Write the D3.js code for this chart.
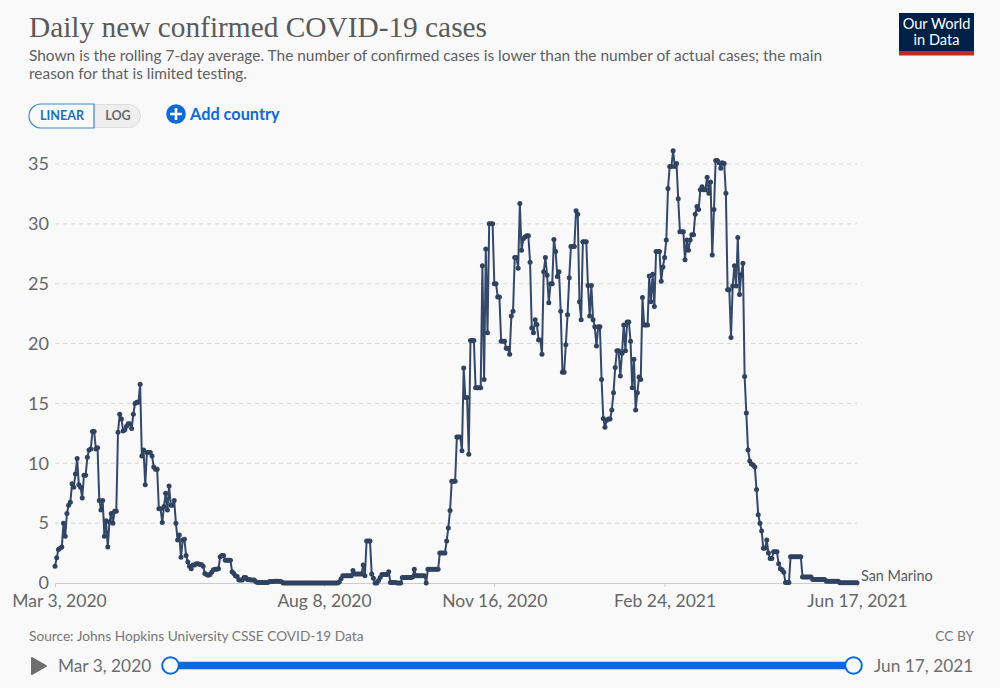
<!DOCTYPE html>
<html><head><meta charset="utf-8">
<script src="https://cdn.jsdelivr.net/npm/d3@7/dist/d3.min.js"></script>
<style>
html,body{margin:0;padding:0;background:#f9f9f9;overflow:hidden}
svg{display:block}
text{font-family:Lato,"Open Sans",sans-serif}
.domain{display:none}
</style></head><body>
<svg id="c" width="1000" height="688"></svg>
<script>
const title = "Daily new confirmed COVID-19 cases";
const subtitle = ["Shown is the rolling 7-day average. The number of confirmed cases is lower than the number of actual cases; the main","reason for that is limited testing."];
const source = "Source: Johns Hopkins University CSSE COVID-19 Data";
const seriesName = "San Marino";
const startDate = "2020-03-03";
const yTicks = [0,5,10,15,20,25,30,35];
const xTickDates = ["2020-03-03","2020-08-08","2020-11-16","2021-02-24","2021-06-17"];
const cases = [
1.4,2.1,2.8,2.9,3.0,5.0,3.9,5.8,6.5,6.75,
8.3,8.0,9.1,10.4,8.2,8.0,7.1,9.0,9.0,10.5,
11.1,11.2,12.65,12.65,11.2,11.3,6.9,6.1,6.9,3.9,
5.2,3.0,5.1,5.8,5.0,6.0,6.0,12.6,14.1,13.7,
12.7,12.8,13.1,13.3,13.3,12.9,14.1,15.0,15.1,15.1,
16.6,10.6,11.1,8.2,10.9,10.9,10.9,10.6,9.7,9.5,
9.5,6.2,6.2,5.05,6.4,7.5,6.1,8.1,6.5,6.5,
6.9,5.0,3.6,4.0,2.15,3.6,3.65,2.3,1.75,1.4,
1.2,1.5,1.5,1.6,1.6,1.55,1.55,1.4,.8,.7,
.65,.7,.9,1.1,1.15,1.15,1.2,2.2,2.3,2.3,
1.9,1.9,1.9,1.9,.95,.8,.6,.55,.25,.25,
.25,.45,.45,.3,.3,.25,.25,.25,.1,.05,
.05,.05,.05,.05,.05,.05,.12,.12,.12,.15,
.15,.15,.12,.1,0,0,0,0,0,0,
0,0,0,0,0,0,0,0,0,0,
0,0,0,0,0,0,0,0,0,0,
0,0,0,0,0,0,0,.1,.35,.6,
.6,.6,.6,.6,.6,1.05,.75,.75,.75,.75,
.75,1.5,.6,3.5,3.5,3.5,.75,.4,0,0,
.2,.45,.7,.7,.7,.7,.95,.05,.05,.05,
.05,0,0,0,.45,.45,.45,.45,.45,.45,
.5,1.15,.6,.6,.6,.6,.6,.6,0,1.15,
1.15,1.15,1.15,1.15,1.15,1.15,2.5,2.5,2.5,2.5,
3.5,4.6,6.05,8.5,8.5,8.5,12.2,12.2,12.2,11.05,
17.95,15.5,15.5,10.75,20.25,20.25,20.25,16.3,16.3,16.3,
16.3,26.5,17,27.9,20.9,30,30,30,25,25,
23.9,23.9,20.2,20.2,20.2,19.6,19.6,19.1,22.3,22.7,
27.2,27.2,26.3,31.7,27.8,28.75,28.9,29,29,26.8,
21.3,20.9,22,21.6,20.3,20.3,19.1,26,27.2,25.7,
23.4,25,25,28.7,27.7,25.6,26,22.7,17.6,17.6,
19.9,22.4,25.5,28.1,28.1,28.1,31.1,30.8,23.5,22,
28.5,28.5,28.5,24.85,22.3,24.85,22,21.4,19.8,21.4,
21.4,17,13.75,13,13.6,13.7,13.7,14.45,15.9,18,
19.4,19.4,17.3,19.2,21.55,19.4,21.8,21.8,20.2,16.3,
18.7,14.45,15.9,17.2,17,23.85,21.55,21.55,21.55,25.65,
23.5,25.8,23.1,27.7,27.7,27.7,25.2,26.4,27.2,28.65,
32.95,34.8,34.8,36.1,34.8,35.05,32.1,29.35,29.35,29.35,
27,28.65,27.8,28.65,29.1,29.1,30.8,31.45,31.2,32.85,
33.1,32.85,32.85,33.9,32.55,33.5,27.4,31.2,35.3,35.3,
35.1,34.65,35.1,35.05,32.55,24.5,24.5,20.5,24.8,26.5,
24.8,28.85,24.1,25.75,26.7,17.25,14.2,11.1,10.2,9.95,
9.85,9.7,7.8,5.7,5.0,4.35,2.9,2.9,3.6,2.5,
2.05,2.05,2.6,2.6,2.6,1.6,1.2,1.1,.9,.05,
.05,.05,2.2,2.2,2.2,2.2,2.2,2.2,2.2,.5,
.5,.5,.5,.5,.5,.3,.3,.3,.3,.3,
.3,.3,.3,.15,.15,.15,.15,.15,.15,.15,
.15,.03,.03,.03,.03,.03,.03,.03,.03,.03,.03,.03
];

const parse = d3.utcParse("%Y-%m-%d");
const fmt = d3.utcFormat("%b %-d, %Y");
const start = parse(startDate);
const data = cases.map((v,i)=>({date:d3.utcDay.offset(start,i),value:v}));
const xDates = xTickDates.map(parse);
const svg = d3.select("#c");
const x = d3.scaleUtc().domain([xDates[0],xDates[4]]).range([55,857]);
const y = d3.scaleLinear().domain([0,35]).range([583,164]);

// header
svg.append("text").attr("x",29).attr("y",37).attr("font-size",29.5).attr("fill","#5a5a5a")
  .style("font-family","'Liberation Serif',serif").attr("textLength",458).attr("lengthAdjust","spacingAndGlyphs").text(title);
subtitle.forEach((s,i)=>svg.append("text").attr("x",29).attr("y",60.5+i*18.5).attr("font-size",15.45).attr("fill","#5f5f5f").text(s));

// scale toggle
svg.append("path").attr("d","M94 104.5H129a11.5 11.5 0 0 1 0 23H94Z").attr("fill","#eee").attr("stroke","#ddd");
svg.append("path").attr("d","M94 104H41a12 12 0 0 0 0 24H94Z").attr("fill","#fafafa").attr("stroke","#3f87c9").attr("stroke-width",1.2);
svg.append("text").attr("x",62).attr("y",120).attr("text-anchor","middle").attr("font-size",12.6).attr("font-weight",700).attr("fill","#1d6fbb").text("LINEAR");
svg.append("text").attr("x",118).attr("y",120).attr("text-anchor","middle").attr("font-size",12.6).attr("font-weight",700).attr("fill","#6a6a6a").text("LOG");
svg.append("circle").attr("cx",176).attr("cy",114).attr("r",9.8).attr("fill","#0a6bd6");
svg.append("path").attr("d","M170 114H182M176 108V120").attr("stroke","#fff").attr("stroke-width",2.6);
svg.append("text").attr("x",190).attr("y",120).attr("font-size",16.3).attr("font-weight",700).attr("fill","#0a6bd6").text("Add country");

// logo
svg.append("rect").attr("x",899).attr("y",13).attr("width",75).attr("height",38).attr("fill","#002147");
svg.append("rect").attr("x",899).attr("y",51).attr("width",75).attr("height",4.5).attr("fill","#c8281e");
["Our World","in Data"].forEach((s,i)=>svg.append("text").attr("x",936.5).attr("y",29+i*16).attr("text-anchor","middle").attr("font-size",14.6).attr("fill","#fff").text(s));

// axes
const gy = svg.append("g").attr("transform","translate(55,0)")
  .call(d3.axisLeft(y).tickValues(yTicks).tickSize(0).tickPadding(6));
gy.selectAll("text").attr("font-size",18).attr("fill","#666").style("font-family","Lato,sans-serif");
svg.append("g").selectAll("line").data(yTicks.filter(d=>d>0)).join("line")
  .attr("x1",55).attr("x2",857).attr("y1",d=>y(d)).attr("y2",d=>y(d))
  .attr("stroke","#d6d6d6").attr("stroke-dasharray","4 4");
svg.append("line").attr("x1",55).attr("x2",857).attr("y1",y(0)+.5).attr("y2",y(0)+.5).attr("stroke","#ccc");
const gx = svg.append("g").attr("transform",`translate(0,${y(0)})`)
  .call(d3.axisBottom(x).tickValues(xDates).tickFormat(fmt).tickSize(4).tickPadding(8));
gx.selectAll("line").attr("stroke","#ccc");
gx.selectAll("text").attr("font-size",17.5).attr("fill","#666").style("font-family","Lato,sans-serif");
gx.selectAll("text").filter((d,i)=>i===0).attr("dx",4);

// series
const lineGen = d3.line().x(d=>x(d.date)).y(d=>y(d.value));
svg.append("path").datum(data).attr("d",lineGen).attr("fill","none").attr("stroke","#34486a").attr("stroke-width",2).attr("stroke-linejoin","round");
svg.append("g").selectAll("circle").data(data).join("circle")
  .attr("cx",d=>x(d.date)).attr("cy",d=>y(d.value)).attr("r",2.5).attr("fill","#2f4360");
svg.append("text").attr("x",861).attr("y",580.5).attr("font-size",14.4).attr("fill","#505a66").text(seriesName);

// footer
svg.append("text").attr("x",29).attr("y",641).attr("font-size",13.7).attr("fill","#777").text(source);
svg.append("text").attr("x",974).attr("y",641).attr("text-anchor","end").attr("font-size",13.7).attr("fill","#777").text("CC BY");

// timeline
const tl = d3.scaleUtc().domain(x.domain()).range([170.5,853.5]);
svg.append("path").attr("d","M32 658L46 666L32 674Z").attr("fill","#6e6e6e").attr("stroke","#6e6e6e").attr("stroke-width",2).attr("stroke-linejoin","round");
svg.append("text").attr("x",58).attr("y",672).attr("font-size",17.3).attr("fill","#6e6e6e").text(fmt(xDates[0]));
svg.append("text").attr("x",874).attr("y",672).attr("font-size",17.3).attr("fill","#6e6e6e").text(fmt(xDates[4]));
svg.append("line").attr("x1",tl.range()[0]).attr("x2",tl.range()[1]).attr("y1",665.5).attr("y2",665.5).attr("stroke","#0a6bd6").attr("stroke-width",7.5);
svg.append("g").selectAll("circle").data(x.domain()).join("circle")
  .attr("cx",d=>tl(d)).attr("cy",665.5).attr("r",8.3).attr("fill","#fafafa").attr("stroke","#0a6bd6").attr("stroke-width",2);
</script></body></html>
